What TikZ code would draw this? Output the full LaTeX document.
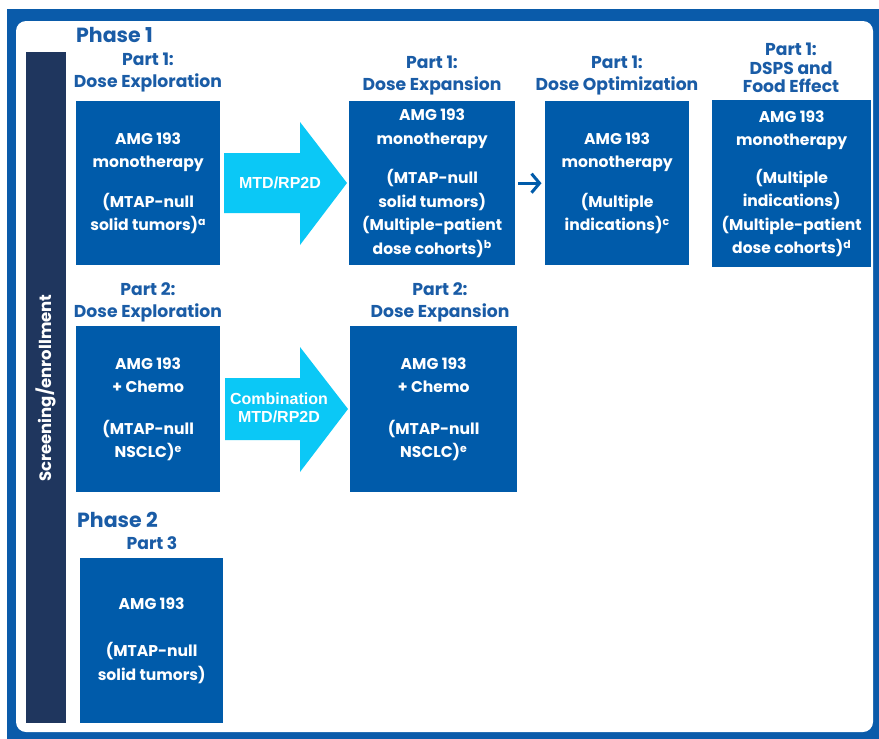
\documentclass[tikz,border=0pt]{standalone}
\usepackage{fontspec}
\setmainfont{Poppins}
\newfontfamily\arialfont{Liberation Sans}
\usetikzlibrary{arrows.meta}
\definecolor{frameblue}{HTML}{0A5BAA}
\definecolor{boxblue}{HTML}{005BAA}
\definecolor{headblue}{HTML}{1A5CA6}
\definecolor{navybar}{HTML}{1F365E}
\definecolor{arrowcyan}{HTML}{0BC8F6}
\begin{document}
\begin{tikzpicture}[x=1pt,y=-1pt,
  stagebox/.style={fill=boxblue, text=white, align=center, inner sep=0pt,
    anchor=north west, font=\bfseries\fontsize{15.6}{23.5}\selectfont},
  header/.style={text=headblue, align=center, inner sep=0pt,
    font=\bfseries\fontsize{17.2}{22}\selectfont},
  phase/.style={text=headblue, inner sep=0pt, anchor=west,
    font=\bfseries\fontsize{20.5}{24}\selectfont},
  arrowtext/.style={text=white, align=center, inner sep=0pt,
    font=\arialfont\bfseries\fontsize{16}{17.5}\selectfont},
  bigarrow/.style={fill=arrowcyan},
]
\useasboundingbox (0,0) rectangle (879,739);
\fill[white] (0,0) rectangle (879,739);
\fill[frameblue] (7,9) rectangle (879,739);
\fill[white, rounded corners=10pt] (16,21) rectangle (873,732);
\fill[navybar] (26,52) rectangle (66,723);
\node[rotate=90, text=white, inner sep=0pt, font=\bfseries\fontsize{16.5}{20}\selectfont] (screen) at (46,388) {Screening/enrollment};

% Phase labels
\node[phase] (ph1) at (76,35) {Phase 1};
\node[phase] (ph2) at (77,520) {Phase 2};

% Headers
\node[header] (h1) at (148,73) {Part 1:\\Dose Exploration};
\node[header] (h2) at (432,76) {Part 1:\\Dose Expansion};
\node[header] (h3) at (617,76) {Part 1:\\Dose Optimization};
\node[header, font=\bfseries\fontsize{17.2}{18.5}\selectfont] (h4) at (791,68) {Part 1:\\DSPS and\\Food Effect};
\node[header] (h5) at (148,302) {Part 2:\\Dose Exploration};
\node[header] (h6) at (440,302) {Part 2:\\Dose Expansion};
\node[header] (h7) at (152,543) {Part 3};

% Boxes
\node[stagebox, minimum width=144pt, minimum height=164pt] (b1) at (76,101)
  {AMG 193\\monotherapy\\[16pt](MTAP-null\\solid tumors)\textsuperscript{a}};
\node[stagebox, minimum width=166pt, minimum height=164pt] (b2) at (349,101)
  {AMG 193\\monotherapy\\[16pt](MTAP-null\\solid tumors)\\(Multiple-patient\\dose cohorts)\textsuperscript{b}};
\node[stagebox, minimum width=144pt, minimum height=164pt] (b3) at (545,101)
  {AMG 193\\monotherapy\\[16pt](Multiple\\indications)\textsuperscript{c}};
\node[stagebox, minimum width=159pt, minimum height=167pt] (b4) at (712,100)
  {AMG 193\\monotherapy\\[14pt](Multiple\\indications)\\(Multiple-patient\\dose cohorts)\textsuperscript{d}};
\node[stagebox, minimum width=144pt, minimum height=166pt] (b5) at (76,326)
  {AMG 193\\+ Chemo\\[18pt](MTAP-null\\NSCLC)\textsuperscript{e}};
\node[stagebox, minimum width=167pt, minimum height=166pt] (b6) at (350,326)
  {AMG 193\\+ Chemo\\[18pt](MTAP-null\\NSCLC)\textsuperscript{e}};
\node[stagebox, minimum width=143pt, minimum height=165pt] (b7) at (80,558)
  {AMG 193\\[24pt](MTAP-null\\solid tumors)};

% Big arrow 1
\coordinate (a1s) at (224,183);
\coordinate (a1t) at (347,183);
\fill[bigarrow] (a1s) ++(0,-30) -- (300,153) -- (300,122) -- (a1t) -- (300,245) -- (300,213) -- (224,213) -- cycle;
\node[arrowtext] (a1txt) at (280,183) {MTD/RP2D};

% Big arrow 2
\coordinate (a2s) at (225,409);
\coordinate (a2t) at (348,409);
\fill[bigarrow] (a2s) ++(0,-31) -- (300,378) -- (300,347) -- (a2t) -- (300,472) -- (300,440) -- (225,440) -- cycle;
\node[arrowtext] (a2txt) at (279,408) {Combination\\MTD/RP2D};

% Small arrow
\draw[boxblue, line width=3pt, -{Straight Barb[length=8pt, width=19pt, line width=3pt]}, shorten <=3pt, shorten >=3.5pt] (b2.east) -- (b3.west);
\end{tikzpicture}
\end{document}
